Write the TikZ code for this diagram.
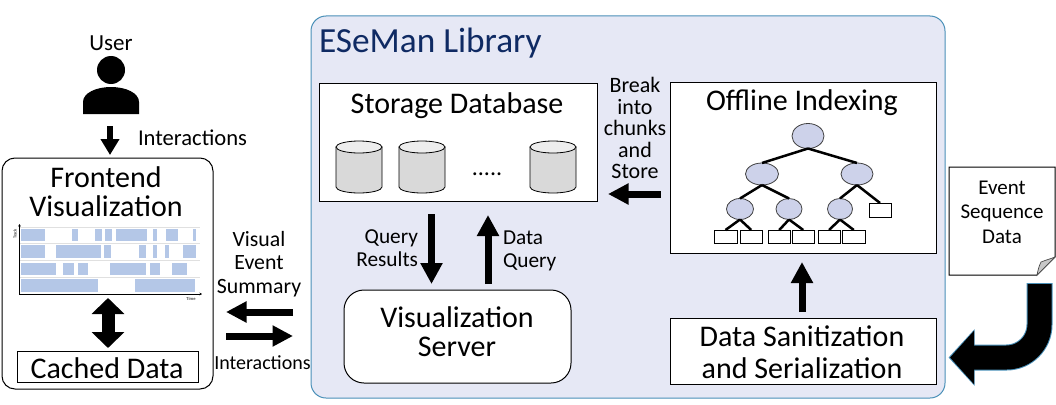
\documentclass[tikz,border=0pt]{standalone}
\usepackage{fontspec}
\setmainfont{Carlito}
\usetikzlibrary{arrows.meta,shapes.geometric}
\definecolor{panel}{HTML}{E6E8F5}
\definecolor{panelline}{HTML}{4A90B8}
\definecolor{navy}{HTML}{0F2A63}
\definecolor{treefill}{HTML}{CDD2EA}
\definecolor{bar}{HTML}{B4C7E7}
\definecolor{cylbody}{HTML}{D9D9D9}
\definecolor{cyltop}{HTML}{EDEDED}
\newcommand{\dbcyl}[1]{%
  \begin{scope}[shift={(#1,0)}]
    \draw[cylline,fill=cylbody] (-23,147) -- (-23,187) .. controls (-23,190.3) and (-12.7,193) .. (0,193) .. controls (12.7,193) and (23,190.3) .. (23,187) -- (23,147) -- cycle;
    \draw[cylline,fill=cyltop] (-23,147) .. controls (-23,143.7) and (-12.7,141) .. (0,141) .. controls (12.7,141) and (23,143.7) .. (23,147) .. controls (23,150.3) and (12.7,153) .. (0,153) .. controls (-12.7,153) and (-23,150.3) .. (-23,147) -- cycle;
  \end{scope}}
\tikzset{
  x=1pt,y=-1pt,
  every node/.style={inner sep=0pt,outer sep=0pt},
  plainbox/.style={draw=black,fill=white,line width=1pt,anchor=north west},
  roundbox/.style={plainbox,rounded corners=#1},
  title/.style={font=\fontsize{30}{29}\selectfont,align=center,text=black},
  midlabel/.style={font=\fontsize{21.3}{23}\selectfont,align=center,text=black},
  treenode/.style={ellipse,draw=black!75,fill=treefill,line width=.8pt},
  leaf/.style={rectangle,draw=black,fill=white,line width=.8pt,minimum height=13pt,anchor=north west},
  treeedge/.style={line width=2.5pt,black},
  cylline/.style={draw=black,line width=.8pt},
  block/.style={line width=7pt,black,-{Triangle[length=21pt,width=21pt]}},
  blockh/.style={line width=7pt,black,-{Triangle[length=20.5pt,width=20pt]}},
  blockthin/.style={line width=5.5pt,black,-{Triangle[length=16pt,width=18pt]}},
  blockdouble/.style={line width=13pt,black,{Triangle[length=16pt,width=32pt]}-{Triangle[length=16pt,width=32pt]}},
}
\begin{document}
\begin{tikzpicture}
\useasboundingbox (0,0) rectangle (1056,404);
% main panel
\node[roundbox=15pt,draw=panelline,fill=panel,minimum width=634pt,minimum height=382pt] (lib) at (311,16) {};
\node[anchor=west,text=navy,font=\fontsize{35.3}{36}\selectfont] (libtitle) at (319,43) {ESeMan Library};
% storage
\node[plainbox,minimum width=278pt,minimum height=118pt] (storage) at (319,83) {};
\node[title] (storaget) at (457,106) {Storage Database};
\dbcyl{359}
\dbcyl{422}
\dbcyl{553}
\node[midlabel,font=\fontsize{24}{26}\selectfont] (dots) at (487,174) {.....};
% offline
\node[plainbox,minimum width=266pt,minimum height=171pt] (offline) at (670,82) {};
\node[title] (offlinet) at (802,103) {Offline Indexing};
\node[treenode,minimum width=32pt,minimum height=25pt] (r) at (808,136) {};
\node[treenode,minimum width=33pt,minimum height=22pt] (a) at (762,174) {};
\node[treenode,minimum width=32pt,minimum height=22pt] (b) at (857,174) {};
\node[treenode,minimum width=27pt,minimum height=21pt] (a1) at (740,209) {};
\node[treenode,minimum width=26pt,minimum height=21pt] (a2) at (789,209) {};
\node[treenode,minimum width=25pt,minimum height=21pt] (b1) at (840,209) {};
\node[leaf,minimum width=22pt,minimum height=14pt] (b2) at (869,203) {};
\draw[treeedge] (r.south) -- (a.north);
\draw[treeedge] (r.south) -- (b.north);
\draw[treeedge] (a.south) -- (a1.north);
\draw[treeedge] (a.south) -- (a2.north);
\draw[treeedge] (b.south) -- (b1.north);
\draw[treeedge] (b.south) -- (b2.north);
\node[leaf,minimum width=23pt] (l1) at (714,230) {};
\node[leaf,minimum width=22.5pt] (l2) at (740,230) {};
\node[leaf,minimum width=22.5pt] (l3) at (768,230) {};
\node[leaf,minimum width=21.5pt] (l4) at (792.5,230) {};
\node[leaf,minimum width=22pt] (l5) at (818,230) {};
\node[leaf,minimum width=22.5pt] (l6) at (842.5,230) {};
\draw[treeedge] (a1.south) -- (l1.north);
\draw[treeedge] (a1.south) -- (l2.north);
\draw[treeedge] (a2.south) -- (l3.north);
\draw[treeedge] (a2.south) -- (l4.north);
\draw[treeedge] (b1.south) -- (l5.north);
\draw[treeedge] (b1.south) -- (l6.north);
% server, sanitization
\node[roundbox=20pt,minimum width=227pt,minimum height=93pt] (server) at (344,290) {};
\node[title] (servert) at (457,332) {Visualization\\Server};
\node[plainbox,minimum width=266pt,minimum height=66pt] (sanit) at (670,318) {};
\node[title,font=\fontsize{30}{32}\selectfont] (sanitt) at (802,352) {Data Sanitization\\and Serialization};
% labels
\node[midlabel,font=\fontsize{22}{21.5}\selectfont] (brk) at (635,128) {Break\\into\\chunks\\and\\Store};
\node[midlabel,align=right,anchor=east] (qr) at (418,248.5) {Query\\Results};
\node[midlabel,align=left,anchor=west] (dq) at (503,251) {Data\\Query};
% arrows in the panel
\coordinate (aS) at (660.5,194); \coordinate (aE) at (608,194);
\draw[blockh] (aS) -- (aE);
\coordinate (qS) at (431.5,214); \coordinate (qE) at (431.5,284);
\draw[block] (qS) -- (qE);
\coordinate (dS) at (488,284); \coordinate (dE) at (488,215);
\draw[block] (dS) -- (dE);
\coordinate (sS) at (802,312); \coordinate (sE) at (802,262);
\draw[block] (sS) -- (sE);
% user
\node[font=\fontsize{23}{25}\selectfont] (user) at (111,43) {User};
\node[circle,fill=black,minimum size=28pt] (head) at (111,70) {};
\fill[black] (83,114) -- (83,102) .. controls (83,93) and (96,87) .. (111,87) .. controls (126,87) and (139,93) .. (139,102) -- (139,114) -- cycle;
\coordinate (uS) at (110,126); \coordinate (uE) at (110,155);
\draw[blockthin] (uS) -- (uE);
\node[anchor=west,font=\fontsize{22.6}{24}\selectfont] (inter1) at (138,138) {Interactions};
% frontend
\node[roundbox=13pt,minimum width=211pt,minimum height=231pt] (front) at (2,158) {};
\node[title] (frontt) at (106,191.5) {Frontend\\Visualization};
% chart
\foreach \gy in {227,243,260,277}{\draw[black!12,line width=.8pt] (20,\gy) -- (200,\gy);}
\foreach \a/\b in {62/135,216/235,285/305,314/336,348/441,460/471,498/535,578/589}{\fill[bar] (\a/3,229) rectangle (\b/3,241);}
\foreach \a/\b in {62/134,168/302,312/334,417/439,459/470,496/506,550/587}{\fill[bar] (\a/3,245) rectangle (\b/3,258);}
\foreach \a/\b in {62/168,190/221,234/264,329/439,450/480,517/562}{\fill[bar] (\a/3,263) rectangle (\b/3,275);}
\foreach \a/\b in {62/294,405/586}{\fill[bar] (\a/3,279) rectangle (\b/3,292);}
\draw[black,line width=.7pt,{Stealth[length=2.5pt,width=2.5pt]}-{Stealth[length=2.5pt,width=2.5pt]}] (19.5,224) -- (19.5,294) -- (202,294);
\node[rotate=90,font=\fontsize{4.5}{5}\selectfont\bfseries,text=black!70] (track) at (15,234) {Track};
\node[font=\fontsize{4.5}{5}\selectfont\bfseries,text=black!70] (time) at (191,299) {Time};
% cached
\node[plainbox,minimum width=181pt,minimum height=31pt] (cache) at (17,351) {};
\node[title] (cachet) at (107,368) {Cached Data};
\coordinate (fS) at (108,298); \coordinate (fE) at (108,348);
\draw[blockdouble] (fS) -- (fE);
% between
\node[midlabel,font=\fontsize{21.8}{23.5}\selectfont] (ves) at (259,264) {Visual\\Event\\Summary};
\coordinate (vS) at (293,312); \coordinate (vE) at (226,312);
\draw[blockh] (vS) -- (vE);
\coordinate (iS) at (226,336); \coordinate (iE) at (293,336);
\draw[blockh] (iS) -- (iE);
\node[font=\fontsize{20}{22}\selectfont] (inter2) at (262.5,363) {Interactions};
% note
\fill[white,draw=black,line width=1pt] (949,167) -- (1055,167) -- (1055,257) -- (1037,275) -- (949,275) -- cycle;
\fill[black!22,draw=black!70,line width=.7pt] (1037,275) .. controls (1038,270) and (1039,266) .. (1041,262) .. controls (1046,260) and (1050,259) .. (1055,257) -- cycle;
\node[midlabel,font=\fontsize{21}{24.5}\selectfont] (note) at (1002,212) {Event\\Sequence\\Data};
% bent arrow
\coordinate (bS) at (1039.5,283); \coordinate (bC) at (948.5,357.5);
\draw[panelline,line width=26pt,rounded corners=33pt,-{Triangle[length=26pt,width=55pt]}] (bS) |- (bC);
\draw[black,line width=24pt,rounded corners=33pt,shorten >=1.5pt,-{Triangle[length=24pt,width=52pt]}] ([yshift=-1pt]bS) |- (bC);
\end{tikzpicture}
\end{document}
